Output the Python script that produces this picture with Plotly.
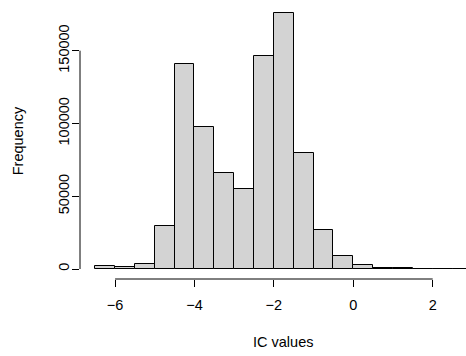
import plotly.graph_objects as go

# Histogram bins (left edges, width 0.5) and counts
bin_left = [-6.5, -6.0, -5.5, -5.0, -4.5, -4.0, -3.5, -3.0, -2.5, -2.0,
            -1.5, -1.0, -0.5, 0.0, 0.5, 1.0, 1.5, 2.0, 2.5]
counts = [2200, 1300, 3200, 29500, 141000, 97300, 66100, 55200, 146500, 175600,
          79900, 27000, 8700, 2500, 1000, 450, 250, 150, 60]
bin_width = 0.5

x_ticks = [-6, -4, -2, 0, 2]
x_ticklabels = ["\u22126", "\u22124", "\u22122", "0", "2"]
y_ticks = [0, 50000, 100000, 150000]
y_ticklabels = ["0", "50000", "100000", "150000"]

centers = [b + bin_width / 2 for b in bin_left]

FONT = "Liberation Sans, Arial, Helvetica, sans-serif"

fig = go.Figure()
fig.add_trace(go.Bar(
    x=centers, y=counts, width=[bin_width] * len(centers),
    marker=dict(color="#D3D3D3", line=dict(color="black", width=1)),
    hoverinfo="skip",
))

fig.update_layout(
    width=466, height=356,
    margin=dict(l=80, r=0, t=3, b=77),
    paper_bgcolor="white", plot_bgcolor="white",
    showlegend=False, bargap=0,
    font=dict(family=FONT, size=14.5, color="black"),
    xaxis=dict(range=[-6.884, 2.839], showgrid=False, zeroline=False, showline=False,
               tickmode="array", tickvals=x_ticks, ticktext=x_ticklabels,
               ticks="outside", ticklen=7, tickwidth=1, tickcolor="black",
               ticklabelstandoff=6, fixedrange=True),
    yaxis=dict(range=[-6871, 182776], showgrid=False, zeroline=False, showline=False,
               tickmode="array", tickvals=y_ticks, ticktext=y_ticklabels,
               ticks="outside", ticklen=7, tickwidth=1, tickcolor="black",
               tickangle=-90, ticklabelstandoff=-3, fixedrange=True),
    shapes=[
        dict(type="line", xref="x", yref="paper", x0=x_ticks[0], x1=x_ticks[-1], y0=0, y1=0,
             line=dict(color="black", width=1)),
        dict(type="line", xref="paper", yref="y", x0=0, x1=0, y0=y_ticks[0], y1=y_ticks[-1],
             line=dict(color="black", width=1)),
    ],
    annotations=[
        dict(text="IC values", xref="paper", yref="paper", x=(283 - 80) / 386, y=-(341.7 - 279) / 276,
             showarrow=False, xanchor="center", yanchor="middle", font=dict(size=14.5)),
        dict(text="Frequency", xref="paper", yref="paper", x=-(80 - 18.3) / 386, y=(279 - 141) / 276,
             showarrow=False, xanchor="center", yanchor="middle", textangle=-90, font=dict(size=14.5)),
    ],
)

fig.write_html("out.html")
